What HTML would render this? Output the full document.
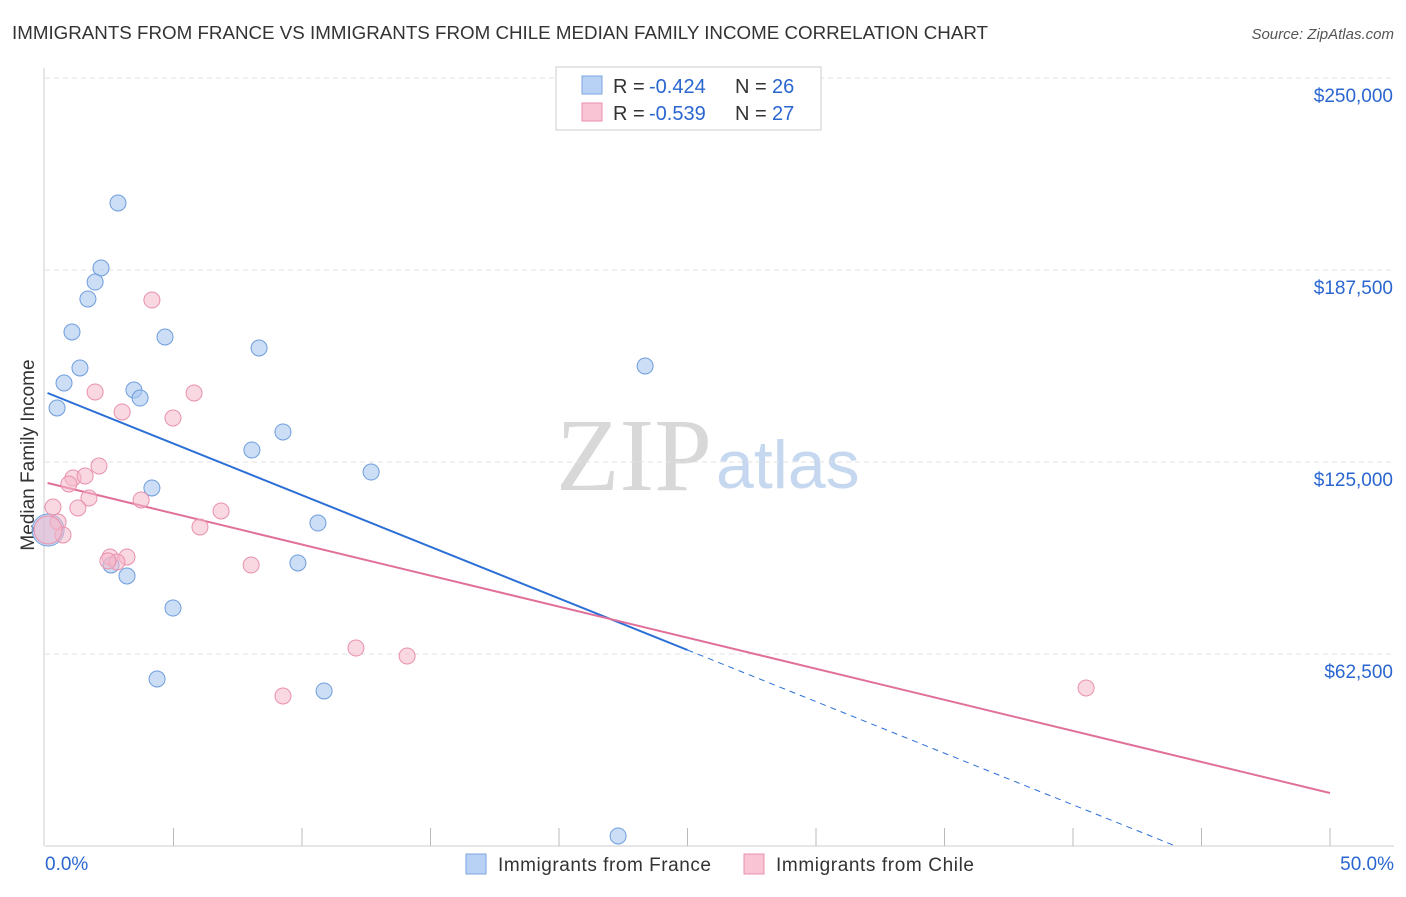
<!DOCTYPE html>
<html><head><meta charset="utf-8"><style>
body{margin:0;background:#fff;font-family:"Liberation Sans",sans-serif;}
</style></head><body>
<svg id="chart" width="1406" height="892" font-family="Liberation Sans, sans-serif">
<text x="12" y="39" font-size="18" fill="#333" textLength="976" lengthAdjust="spacingAndGlyphs">IMMIGRANTS FROM FRANCE VS IMMIGRANTS FROM CHILE MEDIAN FAMILY INCOME CORRELATION CHART</text>
<text x="1394" y="39" font-size="15" fill="#555" text-anchor="end" font-style="italic">Source: ZipAtlas.com</text>
<text x="712" y="490" font-size="104" fill="#d8d8d8" text-anchor="end" style="font-family:'Liberation Serif',serif">ZIP</text>
<text x="716" y="488" font-size="68" fill="#c5d8f0">atlas</text>
<text x="34" y="455" font-size="19" fill="#333" text-anchor="middle" transform="rotate(-90 34 455)">Median Family Income</text>
<g id="grid"></g><g id="lines"></g><g id="pts"></g>
<rect x="556" y="67" width="265" height="63" fill="#fff" stroke="#ccc"/>
<rect x="582" y="76" width="20" height="18" fill="#b8d2f5" stroke="#7aa6e0"/>
<rect x="582" y="103" width="20" height="18" fill="#f9c5d4" stroke="#e891ad"/>
<g font-size="20" fill="#333">
<text x="613" y="93">R =</text><text x="649" y="93" fill="#2a66d0">-0.424</text><text x="735" y="93">N =</text><text x="772" y="93" fill="#2a66d0">26</text></g>
<g font-size="20" fill="#333">
<text x="613" y="120">R =</text><text x="649" y="120" fill="#2a66d0">-0.539</text><text x="735" y="120">N =</text><text x="772" y="120" fill="#2a66d0">27</text></g>
<rect x="466" y="854" width="20" height="20" fill="#b8d2f5" stroke="#7aa6e0"/>
<text x="498" y="871" font-size="19" fill="#333" textLength="213">Immigrants from France</text>
<rect x="744" y="854" width="20" height="20" fill="#f9c5d4" stroke="#e891ad"/>
<text x="776" y="871" font-size="19" fill="#333" textLength="198">Immigrants from Chile</text>
</svg>
<script>
const yTicks=[62500,125000,187500,250000];
const yTickLabels=["$62,500","$125,000","$187,500","$250,000"];
const franceX=[2.84,2.18,1.95,1.67,1.05,4.67,8.33,1.36,0.74,3.46,3.70,0.47,9.26,8.05,12.69,4.16,10.62,9.84,2.57,3.19,4.98,4.36,10.86,23.35,22.30,0.12];
const franceY=[209310,188150,183590,178060,167320,165690,162110,155600,150720,148440,145830,142580,134770,128910,121740,116540,105140,92120,91470,87890,77470,54360,50460,156250,3260,102860];
const chileX=[4.16,1.95,5.80,3.00,4.98,2.10,1.09,1.56,0.93,1.71,3.74,0.31,1.28,6.85,6.03,0.51,0.70,2.53,3.19,2.80,8.02,12.10,14.09,9.26,40.51,0.12,2.45];
const chileY=[177730,147790,147460,141280,139320,123700,119790,120440,117840,113280,112630,110350,110030,109050,103840,105470,101240,94080,94080,92450,91470,64450,61850,48830,51430,102860,92800];
const franceTrend=[147800,63800];
const chileTrend=[118160,17250];
const NS='http://www.w3.org/2000/svg';
const sx=v=>45+v/50*1285, sy=v=>846-v/250000*768;
function mk(tag,attrs,parent){const e=document.createElementNS(NS,tag);for(const k in attrs)e.setAttribute(k,attrs[k]);document.getElementById(parent).appendChild(e);return e;}
yTicks.forEach((t,i)=>{
 let l=mk('line',{x1:45,x2:1394,y1:sy(t),y2:sy(t),stroke:'#e2e2e2','stroke-dasharray':'5,4'},'grid');
 
 
 let tx=mk('text',{x:1393,y:sy(t)+24,'font-size':19,fill:'#2a66d0','text-anchor':'end'},'grid');tx.textContent=yTickLabels[i];
 
 
});
let ax=mk('line',{x1:45,x2:1394,y1:846,y2:846,stroke:'#ccc'},'grid');


let ay=mk('line',{x1:44,x2:44,y1:68,y2:846,stroke:'#ccc'},'grid');


for(let i=1;i<=10;i++){let tk=mk('line',{x1:sx(i*5),x2:sx(i*5),y1:828,y2:846,stroke:'#bbb'},'grid');
 
 }
[[0,'0.0%','start',45],[50,'50.0%','end',1394]].forEach(a=>{let t=mk('text',{x:a[3],y:870,'font-size':19,fill:'#2a66d0','text-anchor':a[2]},'grid');t.textContent=a[1];
 
 });
const fAt=x=>franceTrend[0]+(franceTrend[1]-franceTrend[0])*x/25;
const xZero=25*franceTrend[0]/(franceTrend[0]-franceTrend[1]);
let b1=mk('line',{x1:sx(0.1),y1:sy(fAt(0.1)),x2:sx(25),y2:sy(fAt(25)),stroke:'#2b6fd6','stroke-width':2},'lines');


let b2=mk('line',{x1:sx(25),y1:sy(fAt(25)),x2:sx(xZero),y2:sy(0),stroke:'#2b6fd6','stroke-width':1,'stroke-dasharray':'6,5'},'lines');


let p1=mk('line',{x1:sx(0.1),y1:sy(chileTrend[0]),x2:sx(50),y2:sy(chileTrend[1]),stroke:'#e0709a','stroke-width':2},'lines');


franceX.forEach((x,i)=>{const big=i===franceX.length-1;let c=mk('circle',{cx:sx(x),cy:sy(franceY[i]),r:big?16:8,fill:'#a9c8f0','fill-opacity':0.6,stroke:'#6f9ddc','stroke-width':1},'pts');
 
 });
chileX.forEach((x,i)=>{const big=i===25;let c=mk('circle',{cx:sx(x),cy:sy(chileY[i]),r:big?14:8,fill:'#f5b8cb','fill-opacity':0.55,stroke:'#e891ad','stroke-width':1},'pts');
 
 });
</script>
</body></html>
